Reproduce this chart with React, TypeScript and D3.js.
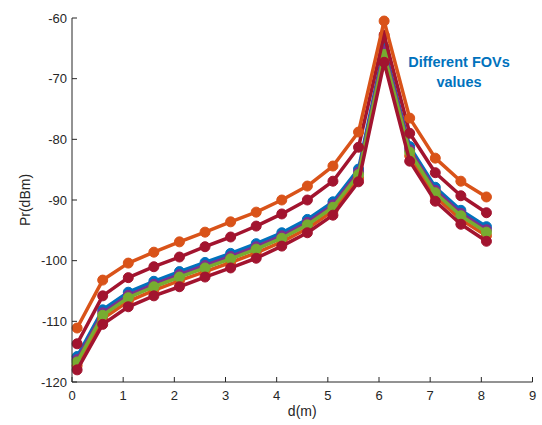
import React from 'react'
import * as d3 from 'd3'

// distance samples (m)
const distances = [0.1, 0.6, 1.1, 1.6, 2.1, 2.6, 3.1, 3.6, 4.1, 4.6, 5.1, 5.6, 6.1, 6.6, 7.1, 7.6, 8.1]

// received power (dBm) per FOV, in drawing order
const fovBlue = [-115.8, -108.1, -105.2, -103.4, -101.8, -100.3, -98.8, -97.2, -95.4, -93.2, -90.3, -84.9, -64.8, -81.2, -87.9, -91.7, -94.4]
const fovPurple = [-116.3, -108.6, -105.7, -103.9, -102.3, -100.8, -99.3, -97.7, -95.9, -93.7, -90.8, -85.4, -65.4, -81.7, -88.4, -92.2, -94.9]
const fovOrangeLow = [-117.3, -109.6, -106.7, -104.9, -103.3, -101.8, -100.3, -98.7, -96.9, -94.7, -91.8, -86.4, -66.6, -82.7, -89.4, -93.2, -95.9]
const fovGreen = [-116.7, -109.0, -106.1, -104.3, -102.7, -101.2, -99.7, -98.1, -96.3, -94.1, -91.2, -85.8, -66.0, -82.1, -88.8, -92.6, -95.3]
const fovRedLow = [-118.0, -110.5, -107.6, -105.8, -104.3, -102.7, -101.2, -99.6, -97.6, -95.4, -92.5, -87.0, -67.3, -83.6, -90.2, -94.0, -96.8]
const fovRedHigh = [-113.7, -105.8, -102.8, -101.0, -99.4, -97.7, -96.1, -94.3, -92.3, -90.0, -86.9, -81.3, -62.8, -79.0, -85.5, -89.3, -92.1]
const fovOrangeHigh = [-111.1, -103.2, -100.4, -98.6, -96.9, -95.3, -93.6, -92.0, -90.0, -87.7, -84.4, -78.8, -60.5, -76.5, -83.1, -86.9, -89.5]

const series = [
  { name: 'blue', color: '#0072BD', values: fovBlue },
  { name: 'purple', color: '#7E2F8E', values: fovPurple },
  { name: 'orangeLow', color: '#D95319', values: fovOrangeLow },
  { name: 'green', color: '#77AC30', values: fovGreen },
  { name: 'redLow', color: '#A2142F', values: fovRedLow },
  { name: 'redHigh', color: '#A2142F', values: fovRedHigh },
  { name: 'orangeHigh', color: '#D95319', values: fovOrangeHigh }
]

const xTicks = [0, 1, 2, 3, 4, 5, 6, 7, 8, 9]
const yTicks = [-120, -110, -100, -90, -80, -70, -60]

function App () {
  const width = 542
  const height = 425
  const left = 72
  const right = 532.5
  const top = 18
  const bottom = 382

  const x = d3.scaleLinear().domain([0, 9]).range([left, right])
  const y = d3.scaleLinear().domain([-120, -60]).range([bottom, top])

  const line = d3.line<number>()
    .x((_, i) => x(distances[i]))
    .y(d => y(d))

  const axisColor = '#262626'
  const font = 'Liberation Sans, Arial, sans-serif'

  return (
    <div style={{ position: 'absolute', left: 0, top: 0 }}>
      <svg width={width} height={height} style={{ display: 'block', background: '#fff' }}>
        {series.map(s => (
          <g key={s.name}>
            <path d={line(s.values) || ''} fill='none' stroke={s.color} strokeWidth={3.5} strokeLinejoin='round' />
            {s.values.map((v, i) => (
              <circle key={i} cx={x(distances[i])} cy={y(v)} r={5} fill={s.color} stroke={s.color} strokeWidth={1} />
            ))}
          </g>
        ))}

        {/* axes */}
        <line x1={left} x2={left} y1={top} y2={bottom} stroke={axisColor} strokeWidth={1} />
        <line x1={left} x2={right} y1={bottom} y2={bottom} stroke={axisColor} strokeWidth={1} />
        {xTicks.map(t => (
          <g key={'x' + t}>
            <line x1={x(t)} x2={x(t)} y1={bottom} y2={bottom - 5} stroke={axisColor} />
            <text x={x(t)} y={bottom + 18} textAnchor='middle' fontSize={13} fontFamily={font} fill={axisColor}>{t}</text>
          </g>
        ))}
        {yTicks.map(t => (
          <g key={'y' + t}>
            <line x1={left} x2={left + 5} y1={y(t)} y2={y(t)} stroke={axisColor} />
            <text x={left - 5} y={y(t) + 4.5} textAnchor='end' fontSize={13} fontFamily={font} fill={axisColor}>{t}</text>
          </g>
        ))}
        <text x={(left + right) / 2} y={416} textAnchor='middle' fontSize={14} fontFamily={font} fill={axisColor}>d(m)</text>
        <text transform={`translate(30,${(top + bottom) / 2}) rotate(-90)`} textAnchor='middle' fontSize={14} fontFamily={font} fill={axisColor}>Pr(dBm)</text>

        <text x={459} y={67} textAnchor='middle' fontSize={14.5} fontWeight='bold' fontFamily={font} fill='#0072BD'>Different FOVs</text>
        <text x={459} y={87} textAnchor='middle' fontSize={14.5} fontWeight='bold' fontFamily={font} fill='#0072BD'>values</text>
      </svg>
    </div>
  )
}

export default App
